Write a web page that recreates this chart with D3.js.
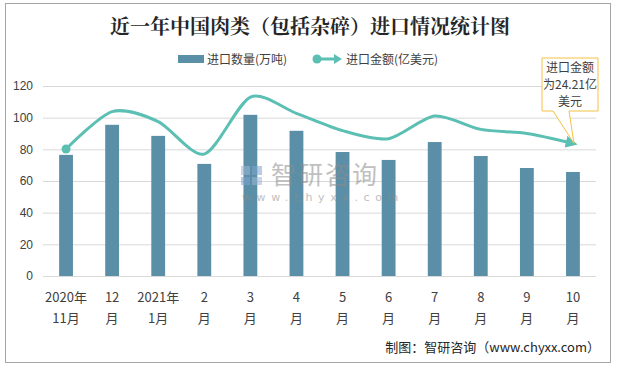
<!DOCTYPE html>
<html><head><meta charset="utf-8">
<script src="https://cdn.jsdelivr.net/npm/d3@7/dist/d3.min.js"></script>
<style>
html,body{margin:0;padding:0;background:#fff;}
svg{display:block;font-family:"Noto Sans CJK SC","Noto Sans",sans-serif;}
</style></head>
<body>
<svg id="chart" width="618" height="368"></svg>
<script>
const categories = ["2020年\n11月","12\n月","2021年\n1月","2\n月","3\n月","4\n月","5\n月","6\n月","7\n月","8\n月","9\n月","10\n月"];
const volume = [76.5, 95.5, 88.5, 70.8, 101.8, 91.7, 78.3, 73.3, 84.6, 75.8, 68.2, 65.7];
const amount = [80.2, 103.8, 97.5, 77.0, 113.0, 102.7, 91.8, 86.7, 101.0, 92.6, 90.0, 83.8];
const yTicks = [0, 20, 40, 60, 80, 100, 120];
const title = "近一年中国肉类（包括杂碎）进口情况统计图";
const legendNames = ["进口数量(万吨)", "进口金额(亿美元)"];
const noteLines = ["进口金额", "为24.21亿", "美元"];
const source = "制图：智研咨询（www.chyxx.com）";

const barColor = "#5b8fa7", lineColor = "#5cbfb3", textColor = "#404040";
const svg = d3.select("#chart");

svg.append("rect").attr("x",5.5).attr("y",3.5).attr("width",605).attr("height",359)
  .attr("fill","#fff").attr("stroke","#a6a6a6").attr("stroke-width",1);

svg.append("text").attr("x",310).attr("y",34).attr("text-anchor","middle")
  .attr("font-size",20).attr("font-weight","bold").attr("fill","#262626")
  .attr("font-family","'Noto Serif CJK SC','Noto Sans CJK SC',serif").text(title);

const x = d3.scaleBand().domain(d3.range(categories.length)).range([43,596]).paddingInner(0.7).paddingOuter(0.35);
const y = d3.scaleLinear().domain([0,120]).range([276,86]);

// gridlines
svg.append("g").selectAll("line").data(yTicks).join("line")
  .attr("x1",43).attr("x2",596).attr("y1",d=>y(d)+0.5).attr("y2",d=>y(d)+0.5)
  .attr("stroke","#d9d9d9").attr("stroke-width",1);

// y axis labels
const yAxis = d3.axisLeft(y).tickValues(yTicks).tickSize(0).tickPadding(0);
const ga = svg.append("g").attr("transform","translate(33,0)").call(yAxis);
ga.select(".domain").remove();
ga.selectAll("text").attr("font-size",12).attr("fill",textColor)
  .attr("font-family","'Liberation Sans','Noto Sans CJK SC',sans-serif");

// bars
svg.append("g").selectAll("rect").data(volume).join("rect")
  .attr("x",(d,i)=>x(i)).attr("width",x.bandwidth())
  .attr("y",d=>y(d)).attr("height",d=>y(0)-y(d)).attr("fill",barColor);

// watermark
const wm = svg.append("g").attr("opacity",0.55);
wm.append("rect").attr("x",241).attr("y",166).attr("width",9).attr("height",9).attr("fill","#9db8d6");
wm.append("rect").attr("x",252).attr("y",166).attr("width",10).attr("height",9).attr("fill","#7fa6cf");
wm.append("rect").attr("x",241).attr("y",177).attr("width",9).attr("height",8).attr("fill","#7fa6cf");
wm.append("rect").attr("x",252).attr("y",177).attr("width",10).attr("height",8).attr("fill","#9db8d6");
wm.append("text").attr("x",271).attr("y",184).attr("font-size",25).attr("fill","#8c8c8c").attr("letter-spacing",2).text("智研咨询");
wm.append("text").attr("x",242).attr("y",201).attr("font-size",11).attr("fill","#8c8c8c").attr("letter-spacing",5.6)
  .attr("font-family","'DejaVu Sans',sans-serif").text("www.chyxx.com");

// line
const cx = i => x(i) + x.bandwidth()/2;
const line = d3.line().x((d,i)=>cx(i)).y(d=>y(d)).curve(d3.curveCardinal.tension(0.2));
svg.append("defs").append("marker").attr("id","arrow").attr("viewBox","0 0 10 10")
  .attr("refX",6).attr("refY",5).attr("markerWidth",4).attr("markerHeight",4).attr("orient","auto")
  .append("path").attr("d","M0,0 L10,5 L0,10 z").attr("fill",lineColor);
svg.append("path").datum(amount).attr("d",line).attr("fill","none")
  .attr("stroke",lineColor).attr("stroke-width",3).attr("marker-end","url(#arrow)");
svg.append("circle").attr("cx",cx(0)).attr("cy",y(amount[0])).attr("r",4.5).attr("fill",lineColor);

// x labels
const gx = svg.append("g");
categories.forEach((c,i)=>{
  const t = gx.append("text").attr("text-anchor","middle").attr("font-size",13).attr("fill",textColor);
  c.split("\n").forEach((s,k)=>{
    t.append("tspan").attr("x",cx(i)).attr("y",302+k*21).text(s);
  });
});

// legend
const lg = svg.append("g");
lg.append("rect").attr("x",178).attr("y",55).attr("width",26).attr("height",8).attr("fill",barColor);
lg.append("text").attr("x",207).attr("y",64).attr("font-size",12).attr("fill",textColor).text(legendNames[0]);
lg.append("line").attr("x1",316).attr("x2",336).attr("y1",59).attr("y2",59).attr("stroke",lineColor).attr("stroke-width",3);
lg.append("path").attr("d","M334,54 L342,59 L334,64 z").attr("fill",lineColor);
lg.append("circle").attr("cx",317).attr("cy",59).attr("r",4.5).attr("fill",lineColor);
lg.append("text").attr("x",346).attr("y",64).attr("font-size",12).attr("fill",textColor).text(legendNames[1]);

// callout
const tipX = cx(11)+1, tipY = y(amount[11]);
svg.append("path")
  .attr("d",`M542,58 H598 V111 H569 L${tipX},${tipY} L553,111 H542 Z`)
  .attr("fill","#fff").attr("stroke","#f5c242").attr("stroke-width",1);
const nt = svg.append("text").attr("text-anchor","middle").attr("font-size",12).attr("fill",textColor);
noteLines.forEach((s,k)=>nt.append("tspan").attr("x",570).attr("y",72+k*17).text(s));

// source
svg.append("text").attr("x",600).attr("y",352).attr("text-anchor","end").attr("font-size",13)
  .attr("fill","#262626").text(source);
</script>
</body></html>
